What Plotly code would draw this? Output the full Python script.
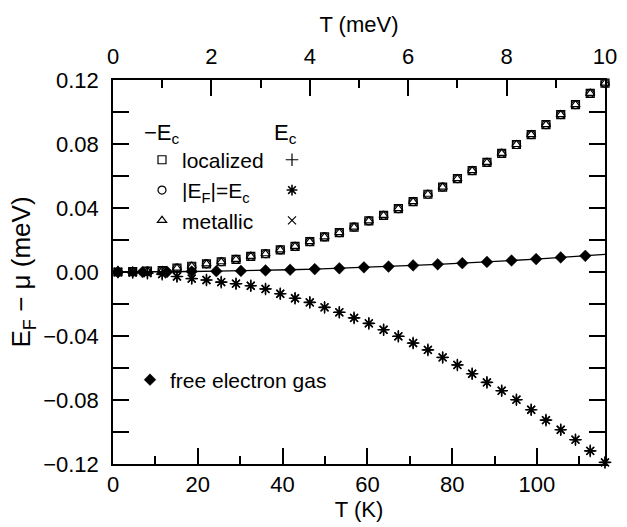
import plotly.graph_objects as go

# ---- data (T in meV) ----
t_ec = [0.1, 0.4, 0.7, 1.0, 1.3, 1.6, 1.9, 2.2, 2.5, 2.8, 3.1, 3.4, 3.7, 4.0, 4.3, 4.6, 4.9,
        5.2, 5.5, 5.8, 6.1, 6.4, 6.7, 7.0, 7.3, 7.6, 7.9, 8.2, 8.5, 8.8, 9.1, 9.4, 9.7, 10.0]
# -E_c (localized, |E_F|=E_c, metallic all coincide)
minus_ec_localized = [0.0000, 0.0002, 0.0005, 0.0009, 0.0024, 0.0036, 0.0051, 0.0064, 0.0079, 0.0098,
                      0.0114, 0.0138, 0.0160, 0.0190, 0.0219, 0.0246, 0.0281, 0.0319, 0.0354, 0.0396,
                      0.0440, 0.0486, 0.0531, 0.0583, 0.0634, 0.0685, 0.0742, 0.0797, 0.0859, 0.0921,
                      0.0984, 0.1046, 0.1117, 0.1180]
minus_ec_equal = list(minus_ec_localized)
minus_ec_metallic = list(minus_ec_localized)
# E_c
ec_localized = [0.0000, -0.0003, -0.0007, -0.0013, -0.0028, -0.0041, -0.0050, -0.0063, -0.0073, -0.0086,
                -0.0106, -0.0136, -0.0164, -0.0190, -0.0221, -0.0252, -0.0287, -0.0321, -0.0361, -0.0402,
                -0.0444, -0.0487, -0.0534, -0.0581, -0.0636, -0.0690, -0.0742, -0.0798, -0.0861, -0.0926,
                -0.0986, -0.1048, -0.1118, -0.1190]
ec_equal = list(ec_localized)
ec_metallic = list(ec_localized)

t_free = [0.1, 0.6, 1.1, 1.6, 2.1, 2.6, 3.1, 3.6, 4.1, 4.6, 5.1, 5.6, 6.1, 6.6, 7.1, 7.6, 8.1, 8.6, 9.1, 9.6]
free_gas = [0.0000, 0.0000, 0.0001, 0.0003, 0.0005, 0.0007, 0.0010, 0.0014, 0.0018, 0.0023,
            0.0029, 0.0034, 0.0041, 0.0048, 0.0055, 0.0063, 0.0072, 0.0081, 0.0091, 0.0101]
t_free_line = t_free + [10.0]
free_gas_line = free_gas + [0.0110]

MEV_TO_K = 11.6045
FONT = "Liberation Sans, Arial, sans-serif"
FS = 22
LFS = 21

fig = go.Figure()

def mk(symbol, size=8, lw=1.2):
    return dict(symbol=symbol, size=size, color="black", line=dict(color="black", width=lw))

# free-electron-gas curve drawn on the kelvin axis
fig.add_trace(go.Scatter(x=[t * MEV_TO_K for t in t_free_line], y=free_gas_line, xaxis="x", yaxis="y",
                         mode="lines", line=dict(color="black", width=1.3), showlegend=False,
                         hoverinfo="skip"))

fig.add_trace(go.Scatter(x=t_ec, y=minus_ec_localized, xaxis="x2", mode="markers", name="localized",
                         marker=mk("square-open", 8), legend="legend", cliponaxis=False))
fig.add_trace(go.Scatter(x=t_ec, y=minus_ec_equal, xaxis="x2", mode="markers",
                         name="|E<sub>F</sub>|=E<sub>c</sub>",
                         marker=mk("circle-open", 8), legend="legend", cliponaxis=False))
fig.add_trace(go.Scatter(x=t_ec, y=minus_ec_metallic, xaxis="x2", mode="markers", name="metallic",
                         marker=mk("triangle-up-open", 8), legend="legend", cliponaxis=False))

fig.add_trace(go.Scatter(x=t_ec, y=ec_localized, xaxis="x2", mode="markers", name=" ",
                         marker=mk("cross-thin-open", 9), legend="legend2", cliponaxis=False))
fig.add_trace(go.Scatter(x=t_ec, y=ec_equal, xaxis="x2", mode="markers", name="  ",
                         marker=mk("asterisk-open", 9, 1.6), legend="legend2", cliponaxis=False))
fig.add_trace(go.Scatter(x=t_ec, y=ec_metallic, xaxis="x2", mode="markers", name="   ",
                         marker=mk("x-thin-open", 8), legend="legend2", cliponaxis=False))

fig.add_trace(go.Scatter(x=t_free, y=free_gas, xaxis="x2", mode="markers", name="free electron gas",
                         marker=mk("diamond", 9, 0.5), legend="legend3", cliponaxis=False))

axis_common = dict(showline=True, linecolor="black", linewidth=1.5, ticks="inside", ticklen=16,
                   tickwidth=1.5, tickcolor="black", showgrid=False, zeroline=False,
                   tickfont=dict(family=FONT, size=FS, color="black"))

def px_x(p):
    return (p - 113) / 492.0

def px_y(p):
    return 1 - (p - 80) / 384.0

legend_style = dict(bgcolor="rgba(0,0,0,0)", font=dict(family=FONT, size=LFS),
                    tracegroupgap=0, itemwidth=30)

fig.update_layout(
    width=627, height=527,
    margin=dict(l=113, r=22, t=80, b=63, autoexpand=False),
    paper_bgcolor="white", plot_bgcolor="white",
    font=dict(family=FONT, size=FS, color="black"),
    xaxis=dict(range=[0, 10 * MEV_TO_K], dtick=20, tick0=0, **axis_common,
               minor=dict(dtick=10, ticklen=8, tickwidth=1.5, tickcolor="black", ticks="inside"),
               title=dict(text="T (K)", standoff=2, font=dict(family=FONT, size=FS)),
               ticklabelstandoff=0),
    xaxis2=dict(range=[0, 10], dtick=2, tick0=0, overlaying="x", side="top", anchor="y", **axis_common,
                minor=dict(dtick=1, ticklen=8, tickwidth=1.5, tickcolor="black", ticks="inside"),
                title=dict(text="T (meV)", standoff=6, font=dict(family=FONT, size=FS)),
                ticklabelstandoff=5),
    yaxis=dict(range=[-0.12, 0.12], dtick=0.04, tick0=0, tickformat=".2f", mirror="allticks", **axis_common,
               minor=dict(dtick=0.02, ticklen=8, tickwidth=1.5, tickcolor="black", ticks="inside"),
               title=dict(text="E<sub>F</sub> \u2212 \u03bc (meV)", standoff=5, font=dict(family=FONT, size=26)),
               ticklabelstandoff=8),
    legend=dict(x=px_x(142), y=px_y(111), xanchor="left", yanchor="top",
                title=dict(text="\u2212E<sub>c</sub>", font=dict(family=FONT, size=FS)), **legend_style),
    legend2=dict(x=px_x(272), y=px_y(111), xanchor="left", yanchor="top",
                 title=dict(text="E<sub>c</sub>", font=dict(family=FONT, size=FS)), **legend_style),
    legend3=dict(x=px_x(130), y=px_y(380), xanchor="left", yanchor="middle", **legend_style),
)

fig.write_html("out.html")
